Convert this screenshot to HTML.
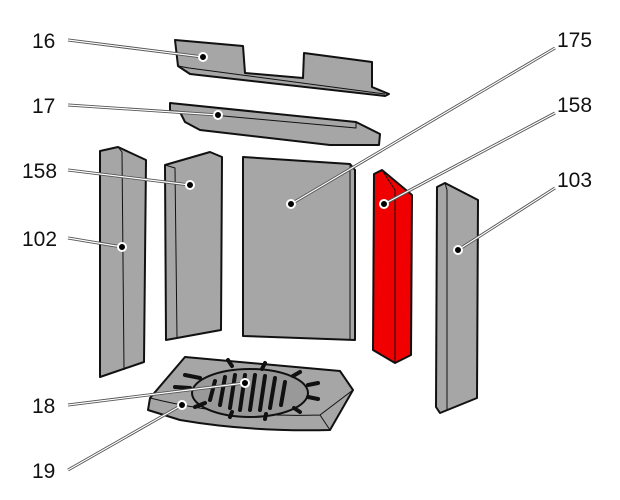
<!DOCTYPE html>
<html><head><style>body{margin:0;background:#fff}svg{display:block}text{font-family:"Liberation Sans",sans-serif;font-size:21px;fill:#111}</style></head><body>
<svg width="620" height="500" viewBox="0 0 620 500">
<g stroke="#111" stroke-width="2" stroke-linejoin="round" fill="#a6a6a6">
<polygon points="175,40 243,46 245,73 303,78 304,53 372,62 372,87 389,94 385,96 190,74 178,66"/>
<polyline points="178,66 189,68 385,94" fill="none" stroke-width="1"/>
<polygon points="170,103 356,122 380,134 379,145 330,145 200,130 185,122 180,112 170,111"/>
<polyline points="180,112 356,128 356,122 M356,128 379,145" fill="none" stroke-width="1"/>
<polygon points="100,151 118,147 146,160 144,362 100,377"/>
<polyline points="118,147 122,152 124,370" fill="none" stroke-width="1"/>
<polygon points="165,165 210,152 222,157 221,330 166,340"/>
<polyline points="165,165 175,168 177,338 M175,168 222,157" fill="none" stroke-width="1"/>
<polygon points="243,157 350,164 355,170 355,340 243,336"/>
<polyline points="350,164 350,340" fill="none" stroke-width="1"/>
<polygon fill="#f00000" points="374,174 382,170 412,195 411,355 395,363 373,350"/>
<polyline points="382,170 395,190 395,363 M395,190 412,195 M404,192 404,358" fill="none" stroke-width="1"/>
<polygon points="437,187 445,183 478,200 477,398 440,413 436,407"/>
<polyline points="445,183 447,190 447,410" fill="none" stroke-width="1"/>
<path d="M185,357 L340,371 L353,390 L330,430 Q250,432 180,420 L148,410 L150,398 Z"/>
<path d="M150,398 Q230,418 320,415 L353,390 M320,415 L330,430" fill="none" stroke-width="1"/>
<ellipse cx="250" cy="393" rx="58" ry="24" fill="#999"/>
</g>
<g stroke="#111" stroke-width="4" stroke-linecap="round">
<line x1="215" y1="381" x2="210" y2="400"/><line x1="225" y1="377" x2="220" y2="405"/><line x1="235" y1="375" x2="230" y2="408"/><line x1="245" y1="375" x2="240" y2="410"/><line x1="255" y1="375" x2="250" y2="410"/><line x1="265" y1="376" x2="260" y2="410"/><line x1="275" y1="378" x2="270" y2="408"/><line x1="285" y1="382" x2="281" y2="405"/>
<line x1="228" y1="360" x2="232" y2="366"/><line x1="265" y1="363" x2="262" y2="369"/><line x1="300" y1="372" x2="293" y2="376"/><line x1="318" y1="383" x2="308" y2="385"/><line x1="318" y1="399" x2="308" y2="397"/><line x1="300" y1="412" x2="294" y2="408"/><line x1="265" y1="419" x2="266" y2="414"/><line x1="230" y1="417" x2="232" y2="412"/><line x1="195" y1="407" x2="205" y2="403"/><line x1="175" y1="387" x2="190" y2="388"/><line x1="185" y1="375" x2="200" y2="378"/>
</g>
<g id="L" fill="none">
<g stroke="#555" stroke-width="3">
<line x1="68" y1="40" x2="203" y2="57"/><line x1="68" y1="105" x2="218" y2="115"/><line x1="68" y1="170" x2="190" y2="185"/><line x1="68" y1="238" x2="122" y2="247"/><line x1="68" y1="405" x2="245" y2="383"/><line x1="68" y1="470" x2="182" y2="405"/><line x1="555" y1="48" x2="291" y2="204"/><line x1="555" y1="113" x2="384" y2="204"/><line x1="555" y1="188" x2="458" y2="250"/>
</g>
<g stroke="#fff" stroke-width="1.2">
<line x1="68" y1="40" x2="203" y2="57"/><line x1="68" y1="105" x2="218" y2="115"/><line x1="68" y1="170" x2="190" y2="185"/><line x1="68" y1="238" x2="122" y2="247"/><line x1="68" y1="405" x2="245" y2="383"/><line x1="68" y1="470" x2="182" y2="405"/><line x1="555" y1="48" x2="291" y2="204"/><line x1="555" y1="113" x2="384" y2="204"/><line x1="555" y1="188" x2="458" y2="250"/>
</g>
</g>
<g fill="#000" stroke="#fff" stroke-width="2">
<circle cx="203" cy="57" r="4"/><circle cx="218" cy="115" r="4"/><circle cx="190" cy="185" r="4"/><circle cx="122" cy="247" r="4"/><circle cx="245" cy="383" r="4"/><circle cx="182" cy="405" r="4"/><circle cx="291" cy="204" r="4"/><circle cx="384" cy="204" r="4"/><circle cx="458" cy="250" r="4"/>
</g>
<text x="32" y="48">16</text><text x="32" y="113">17</text><text x="22" y="178">158</text><text x="22" y="246">102</text><text x="32" y="413">18</text><text x="32" y="478">19</text>
<text x="557" y="47">175</text><text x="557" y="112">158</text><text x="557" y="187">103</text>
</svg>
</body></html>
